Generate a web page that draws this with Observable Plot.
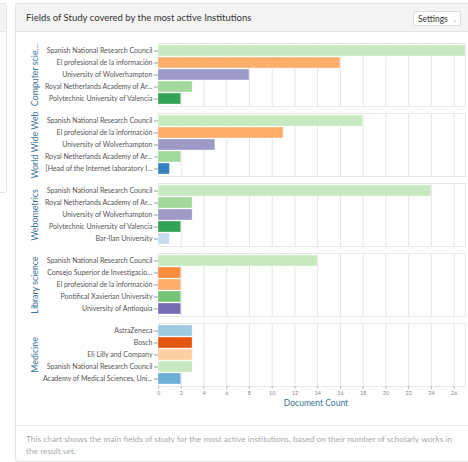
<!DOCTYPE html>
<html><head><meta charset="utf-8">
<script src="https://cdn.jsdelivr.net/npm/d3@7"></script>
<script src="https://cdn.jsdelivr.net/npm/@observablehq/plot@0.6"></script>
<style>
body{margin:0;background:#fff;font-family:Lato,"Open Sans",sans-serif;width:468px;height:462px;overflow:hidden;position:relative}
.leftcard{position:absolute;left:-10px;top:3px;width:15px;height:188px;border:1px solid #e3e3e3;border-radius:3px;background:#fff}
.leftcard .hd{height:27px;background:#f4f4f4;border-bottom:1px solid #e3e3e3}
.card{position:absolute;left:15px;top:3px;width:470px;height:457px;border:1px solid #e3e3e3;border-radius:3px;background:#fff}
.card .hd{height:27px;background:#f4f4f4;border-bottom:1px solid #e3e3e3;position:relative}
.title{position:absolute;left:10px;top:8px;font-size:9.5px;color:#333}
.btn{position:absolute;left:397px;top:7px;width:48px;height:15px;border:1px solid #ddd;background:#fff;border-radius:2px;font-size:8.5px;color:#333;line-height:15px;padding-left:4px;box-sizing:border-box}
.btn span{color:#bbb;margin-left:4px;font-size:7px}
.cap{position:absolute;left:0;top:421px;border-top:1px solid #e8e8e8;padding:7px 10px 0 10px;box-sizing:border-box;font-size:8.35px;line-height:12px;color:#aaa}
#charts{position:absolute;left:16px;top:40px}
#charts svg{display:block;overflow:visible}
</style></head><body>
<div class="leftcard"><div class="hd"></div></div>
<div class="card">
  <div class="hd"><div class="title">Fields of Study covered by the most active Institutions</div>
  <div class="btn">Settings<span>&#8964;</span></div></div>
  <div class="cap" style="width:458px">This chart shows the main fields of study for the most active institutions, based on their number of scholarly works in the result set.</div>
</div>
<div id="charts"></div>
<script>
const fields = ["Computer scie…", "World Wide Web", "Webometrics", "Library science", "Medicine"];
const institutions = [
  ["Spanish National Research Council", "El profesional de la información", "University of Wolverhampton", "Royal Netherlands Academy of Ar…", "Polytechnic University of Valencia"],
  ["Spanish National Research Council", "El profesional de la información", "University of Wolverhampton", "Royal Netherlands Academy of Ar…", "[Head of the Internet laboratory I…"],
  ["Spanish National Research Council", "Royal Netherlands Academy of Ar…", "University of Wolverhampton", "Polytechnic University of Valencia", "Bar-Ilan University"],
  ["Spanish National Research Council", "Consejo Superior de Investigacio…", "El profesional de la información", "Pontifical Xavierian University", "University of Antioquia"],
  ["AstraZeneca", "Bosch", "Eli Lilly and Company", "Spanish National Research Council", "Academy of Medical Sciences, Uni…"]
];
const counts = [
  [27, 16, 8, 3, 2],
  [18, 11, 5, 2, 1],
  [24, 3, 3, 2, 1],
  [14, 2, 2, 2, 2],
  [3, 3, 3, 3, 2]
];
const xTicks = [0, 2, 4, 6, 8, 10, 12, 14, 16, 18, 20, 22, 24, 26];
const xLabel = "Document Count";
const colorDomain = ["Spanish National Research Council", "El profesional de la información", "University of Wolverhampton", "Royal Netherlands Academy of Ar…", "Polytechnic University of Valencia", "[Head of the Internet laboratory I…", "Bar-Ilan University", "Consejo Superior de Investigacio…", "Pontifical Xavierian University", "University of Antioquia", "AstraZeneca", "Bosch", "Eli Lilly and Company", "Academy of Medical Sciences, Uni…"];
const colorRange = ["#c7e9c0", "#fdae6b", "#9e9ac8", "#a1d99b", "#31a354", "#3182bd", "#c6dbef", "#fd8d3c", "#74c476", "#756bb1", "#9ecae1", "#e6550d", "#fdd0a2", "#6baed6"];

const container = document.getElementById("charts");
fields.forEach((field, i) => {
  const last = i === fields.length - 1;
  const data = institutions[i].map((inst, j) => ({field, inst, count: counts[i][j]}));
  const marks = [
    Plot.gridX(xTicks, {stroke: "#e4e4e4", strokeOpacity: 1, strokeWidth: 1}),
    Plot.frame({stroke: "#e8e8e8"}),
    Plot.barX(data, {x: "count", y: "inst", fill: "inst", stroke: "#fff", strokeOpacity: 0.6, strokeWidth: 0.6}),
    Plot.axisY({tickSize: 4, tickPadding: 2, fill: "#555", stroke: "#999", fontSize: 7, label: null}),
    Plot.text([field], {frameAnchor: "left", textAnchor: "middle", dx: -123, rotate: -90, text: d => d, fill: "#3a7499", fontSize: 8.8})
  ];
  if (last) {
    marks.push(Plot.axisX(xTicks, {anchor: "bottom", tickSize: 3, tickPadding: 2, fontSize: 5.5, fill: "#888", stroke: "#bbb", label: null}));
    marks.push(Plot.text([xLabel], {frameAnchor: "bottom", dy: 19, dx: 4, text: d => d, fill: "#3a7499", fontSize: 8.5}));
  }
  const svg = Plot.plot({
    width: 452,
    height: last ? 96 : 70,
    marginLeft: 142,
    marginRight: 3,
    marginTop: 3,
    marginBottom: last ? 30 : 4,
    style: {fontFamily: "Lato, 'Open Sans', sans-serif", fontSize: "7px", background: "transparent", overflow: "visible"},
    x: {domain: [0, 27], axis: null},
    y: {domain: institutions[i], padding: 0.12, axis: null},
    color: {domain: colorDomain, range: colorRange},
    marks
  });
  container.appendChild(svg);
});
</script>
</body></html>
